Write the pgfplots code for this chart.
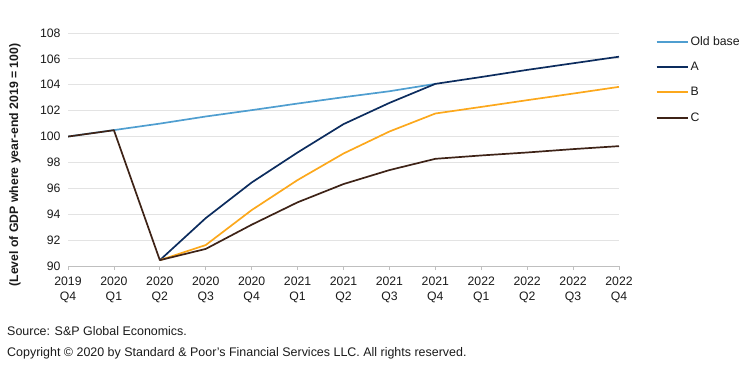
\documentclass[border=0pt]{standalone}
\usepackage{pgfplots}
\pgfplotsset{compat=1.18}
\usepackage{fontspec}
\setmainfont{Liberation Sans}
\definecolor{oldbase}{HTML}{4F9ED0}
\definecolor{serA}{HTML}{0C2C5E}
\definecolor{serB}{HTML}{FCA81C}
\definecolor{serC}{HTML}{3E2317}
\definecolor{gridc}{HTML}{E3E3E3}
\definecolor{axisc}{HTML}{BFBFBF}
\definecolor{txt}{HTML}{1A1A1A}
\begin{document}
\begin{tikzpicture}[x=1bp,y=1bp]
\path[use as bounding box] (0,0) rectangle (740,366);
\begin{axis}[
  at={(68bp,100bp)}, anchor=south west,
  scale only axis, width=551bp, height=233bp,
  xmin=0, xmax=12, ymin=90, ymax=108,
  xtick={0,...,12},
  xticklabels={{2019\\Q4},{2020\\Q1},{2020\\Q2},{2020\\Q3},{2020\\Q4},{2021\\Q1},{2021\\Q2},{2021\\Q3},{2021\\Q4},{2022\\Q1},{2022\\Q2},{2022\\Q3},{2022\\Q4}},
  xticklabel style={align=center, font=\fontsize{12.3}{15}\selectfont, text=txt, yshift=-3bp},
  ytick={90,92,...,108},
  yticklabel style={font=\fontsize{12.3}{14}\selectfont, text=txt},
  /pgf/number format/assume math mode=true,
  axis x line*=bottom, axis y line*=left,
  y axis line style={draw=none},
  x axis line style={draw=axisc, line width=1pt},
  xtick style={draw=axisc, line width=0.8pt},
  ytick style={draw=none},
  tick align=outside, major tick length=4bp,
  ymajorgrids, grid style={gridc, line width=1pt},
  every axis plot/.append style={line width=1.7bp, line join=round},
  legend style={at={(1.066,0.993)}, anchor=north west, draw=none, fill=none,
    font=\fontsize{12.3}{14}\selectfont, text=txt, row sep=11.2bp, inner sep=0pt},
  legend cell align=left,
  legend image code/.code={\draw[#1, line width=2bp] (0bp,0bp) -- (31bp,0bp);},
]
\addplot[oldbase] coordinates {(0,100) (1,100.5) (2,101.0) (3,101.55) (4,102.04) (5,102.55) (6,103.04) (7,103.5) (8,104.07)};
\addlegendentry{Old base}
\addplot[serA] coordinates {(2,90.45) (3,93.7) (4,96.45) (5,98.77) (6,100.96) (7,102.6) (8,104.07) (9,104.6) (10,105.15) (11,105.66) (12,106.17)};
\addlegendentry{A}
\addplot[serB] coordinates {(2,90.45) (3,91.62) (4,94.32) (5,96.64) (6,98.69) (7,100.39) (8,101.78) (9,102.29) (10,102.81) (11,103.32) (12,103.84)};
\addlegendentry{B}
\addplot[serC] coordinates {(0,100) (1,100.49) (2,90.45) (3,91.32) (4,93.19) (5,94.92) (6,96.33) (7,97.41) (8,98.28) (9,98.54) (10,98.77) (11,99.03) (12,99.26)};
\addlegendentry{C}
\end{axis}
\node[rotate=90, font=\bfseries\fontsize{12.3}{14}\selectfont, text=txt] at (15,201) {(Level of GDP where year-end 2019 = 100)};
\node[anchor=west, font=\fontsize{12.5}{14}\selectfont, text=txt, inner sep=0pt] at (7,35) {Source: S\&P Global Economics.};
\node[anchor=west, font=\fontsize{12.5}{14}\selectfont, text=txt, inner sep=0pt] at (7,13) {Copyright © 2020 by Standard \& Poor's Financial Services LLC. All rights reserved.};
\end{tikzpicture}
\end{document}
